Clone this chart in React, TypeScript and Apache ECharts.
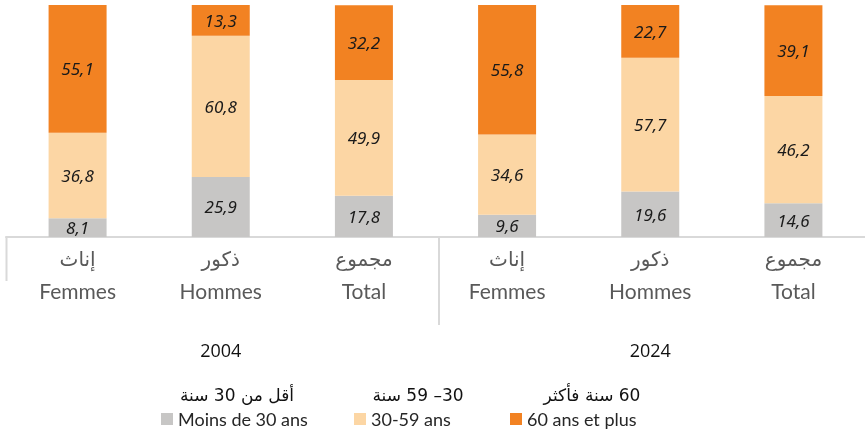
import React, { useEffect, useRef } from "react";
import * as echarts from "echarts";

const categoriesAr = ["إناث", "ذكور", "مجموع", "إناث", "ذكور", "مجموع"];
const categoriesFr = ["Femmes", "Hommes", "Total", "Femmes", "Hommes", "Total"];
const years = ["2004", "2024"];
const seriesNamesFr = ["Moins de 30 ans", "30-59 ans", "60 ans et plus"];
const seriesNamesAr = ["أقل من 30 سنة", "30– 59 سنة", "60 سنة فأكثر"];
const under30 = [8.1, 25.9, 17.8, 9.6, 19.6, 14.6];
const from30to59 = [36.8, 60.8, 49.9, 34.6, 57.7, 46.2];
const over60 = [55.1, 13.3, 32.2, 55.8, 22.7, 39.1];

const colors = ["#c7c6c5", "#fcd6a4", "#f28222"];

export default function App() {
  const ref = useRef<HTMLDivElement>(null);
  useEffect(() => {
    if (!ref.current) return;
    const chart = echarts.init(ref.current, null, { renderer: "svg" });
    const labelStyle = {
      show: true,
      position: "inside",
      fontStyle: "italic",
      fontSize: 17,
      fontFamily: "Noto Sans",
      color: "#1a1a1a",
      formatter: (p: any) => Number(p.value).toFixed(1).replace(".", ","),
    };
    const datas = [under30, from30to59, over60];
    const legendLefts = [161, 354, 510];
    const arCenters = [237, 418, 592];
    chart.setOption({
      animation: false,
      grid: { left: 6, top: 5, width: 866, height: 232, containLabel: false },
      xAxis: [
        {
          type: "category",
          data: categoriesFr.map((fr, i) => categoriesAr[i] + "|" + fr),
          position: "bottom",
          axisLine: { show: true, lineStyle: { color: "#d9d9d9", width: 2 } },
          axisTick: { show: false },
          axisLabel: {
            margin: 7,
            formatter: (v: string) => {
              const [ar, fr] = v.split("|");
              return "{ar|" + ar + "}\n{fr|" + fr + "}";
            },
            rich: {
              ar: { fontSize: 20, lineHeight: 30, color: "#595959", fontFamily: "DejaVu Sans" },
              fr: { fontSize: 21, lineHeight: 32, color: "#595959", fontFamily: "Lato" },
            },
          },
        },
        {
          type: "category",
          data: years,
          position: "bottom",
          axisLine: { show: false },
          axisTick: { show: false },
          axisLabel: { margin: 104, fontSize: 18, color: "#111", fontFamily: "Open Sans" },
        },
      ],
      yAxis: { type: "value", min: 0, max: 100, show: false },
      legend: seriesNamesFr.map((name, i) => ({
        data: [name],
        left: legendLefts[i],
        top: 410,
        padding: 0,
        icon: "rect",
        itemWidth: 12,
        itemHeight: 12,
        itemGap: 0,
        textStyle: { fontSize: 18, color: "#262626", fontFamily: "Lato", padding: [0, 0, 0, 0] },
      })),
      graphic: [
        ...seriesNamesAr.map((t, i) => ({
          type: "text",
          x: arCenters[i],
          y: 395,
          style: {
            text: "\u202B" + t + "\u202C",
            fontSize: 17,
            fontFamily: "DejaVu Sans",
            fill: "#111",
            textAlign: "center",
            textVerticalAlign: "middle",
          },
        })),
        { type: "line", shape: { x1: 6.5, y1: 237, x2: 6.5, y2: 281 }, style: { stroke: "#d9d9d9", lineWidth: 2 } },
        { type: "line", shape: { x1: 439, y1: 237, x2: 439, y2: 325 }, style: { stroke: "#d9d9d9", lineWidth: 2 } },
      ],
      series: seriesNamesFr.map((name, i) => ({
        name,
        type: "bar",
        stack: "total",
        barWidth: 58,
        data: datas[i],
        itemStyle: { color: colors[i] },
        label: labelStyle,
      })),
    });
    return () => chart.dispose();
  }, []);
  return <div ref={ref} style={{ position: "fixed", left: 0, top: 0, width: 865, height: 443 }} />;
}
